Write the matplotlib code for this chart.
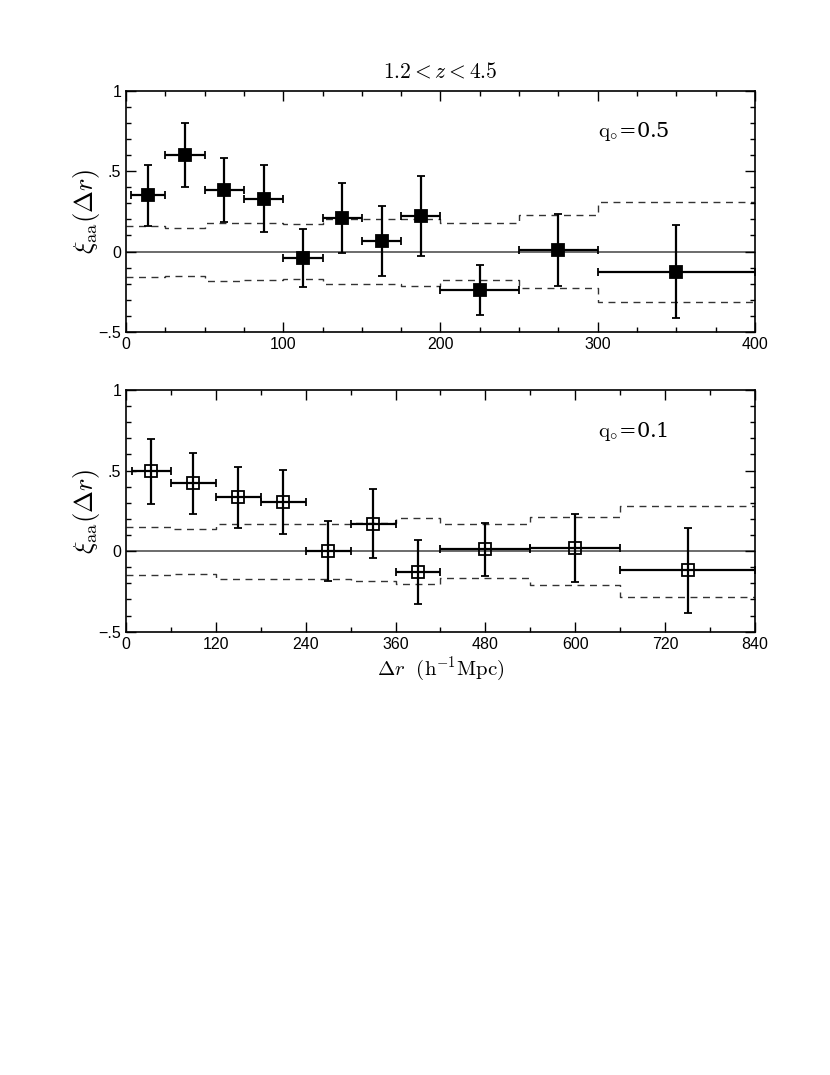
import numpy as np
import matplotlib.pyplot as plt
from matplotlib.ticker import MultipleLocator, FixedLocator, FixedFormatter

plt.rcParams["mathtext.fontset"] = "cm"
plt.rcParams["font.family"] = "Liberation Sans"

# ---- top panel, q0 = 0.5 ----
top_lo = [3, 25, 50, 75, 100, 125, 150, 175, 200, 250, 300]
top_hi = [25, 50, 75, 100, 125, 150, 175, 200, 250, 300, 400]
top_x = [14, 37.5, 62.5, 87.5, 112.5, 137.5, 162.5, 187.5, 225, 275, 350]
top_y = [0.35, 0.60, 0.385, 0.33, -0.04, 0.21, 0.065, 0.22, -0.24, 0.01, -0.125]
top_err = [0.19, 0.20, 0.20, 0.21, 0.18, 0.22, 0.22, 0.25, 0.155, 0.225, 0.29]

top_edges = [0, 25, 50, 75, 100, 125, 150, 175, 200, 250, 300, 400]
top_upper = [0.16, 0.145, 0.18, 0.18, 0.17, 0.20, 0.20, 0.20, 0.177, 0.228, 0.311]
top_lower = [-0.16, -0.15, -0.185, -0.18, -0.17, -0.205, -0.205, -0.218, -0.178, -0.228, -0.315]

# ---- bottom panel, q0 = 0.1 ----
bot_lo = [8, 60, 120, 180, 240, 300, 360, 420, 540, 660]
bot_hi = [60, 120, 180, 240, 300, 360, 420, 540, 660, 840]
bot_x = [33, 90, 150, 210, 270, 330, 390, 480, 600, 750]
bot_y = [0.495, 0.42, 0.335, 0.305, 0.0, 0.17, -0.13, 0.012, 0.02, -0.12]
bot_err = [0.20, 0.19, 0.19, 0.20, 0.185, 0.215, 0.20, 0.165, 0.21, 0.265]

bot_edges = [0, 60, 120, 180, 240, 300, 360, 420, 540, 660, 840]
bot_upper = [0.15, 0.14, 0.168, 0.168, 0.168, 0.176, 0.207, 0.166, 0.213, 0.281]
bot_lower = [-0.149, -0.14, -0.174, -0.174, -0.172, -0.188, -0.203, -0.166, -0.211, -0.284]


def steps(edges, vals):
    xs, ys = [], []
    for i, v in enumerate(vals):
        xs += [edges[i], edges[i + 1]]
        ys += [v, v]
    return xs, ys


def panel(ax, lo, hi, x, y, err, edges, up, dn, xmax, major, minor, filled, label):
    ax.axhline(0, color="#444444", lw=1.1, zorder=1)
    for env in (up, dn):
        sx, sy = steps(edges, env)
        ax.plot(sx, sy, color="#333333", lw=1.0, ls=(0, (5, 4)), zorder=1)
    x = np.array(x)
    xerr = [x - np.array(lo), np.array(hi) - x]
    ax.errorbar(x, y, yerr=err, xerr=xerr, fmt="s", ms=8.5,
                mfc="black" if filled else "none", mec="black", mew=1.3,
                ecolor="black", elinewidth=1.6, capsize=3.2, capthick=1.6,
                zorder=3)
    ax.set_xlim(0, xmax)
    ax.set_ylim(-0.5, 1)
    ax.xaxis.set_major_locator(MultipleLocator(major))
    ax.xaxis.set_minor_locator(MultipleLocator(minor))
    ax.yaxis.set_major_locator(FixedLocator([-0.5, 0, 0.5, 1]))
    ax.yaxis.set_major_formatter(FixedFormatter(["\u2212.5", "0", ".5", "1"]))
    ax.yaxis.set_minor_locator(MultipleLocator(0.1))
    ax.tick_params(which="both", direction="in", top=True, right=True,
                   labelsize=11.5, width=1.0)
    ax.tick_params(which="major", length=7)
    ax.tick_params(which="minor", length=3.5)
    for s in ax.spines.values():
        s.set_linewidth(1.2)
    ax.set_ylabel(r"$\xi_{\rm aa}(\Delta r)$", fontsize=19)
    ax.yaxis.set_label_coords(-0.038, 0.5)
    ax.text(0.75, 0.83, label, transform=ax.transAxes, fontsize=15,
            family="DejaVu Serif", va="center", ha="left")


fig = plt.figure(figsize=(8.3, 10.75), dpi=100)
ax1 = fig.add_axes([0.1518, 0.6914, 0.7578, 0.2239])
ax2 = fig.add_axes([0.1518, 0.4124, 0.7578, 0.2248])

panel(ax1, top_lo, top_hi, top_x, top_y, top_err, top_edges, top_upper,
      top_lower, 400, 100, 25, True, r"$\mathrm{q_{\circ}}$=0.5")
panel(ax2, bot_lo, bot_hi, bot_x, bot_y, bot_err, bot_edges, bot_upper,
      bot_lower, 840, 120, 60, False, r"$\mathrm{q_{\circ}}$=0.1")

ax1.set_title(r"$\mathrm{1.2}<z<\mathrm{4.5}$", fontsize=15.5, pad=10)
ax2.set_xlabel(r"$\Delta r\ \ (\mathrm{h^{-1}Mpc})$", fontsize=15, labelpad=2)

fig.savefig("out.png", dpi=100)
